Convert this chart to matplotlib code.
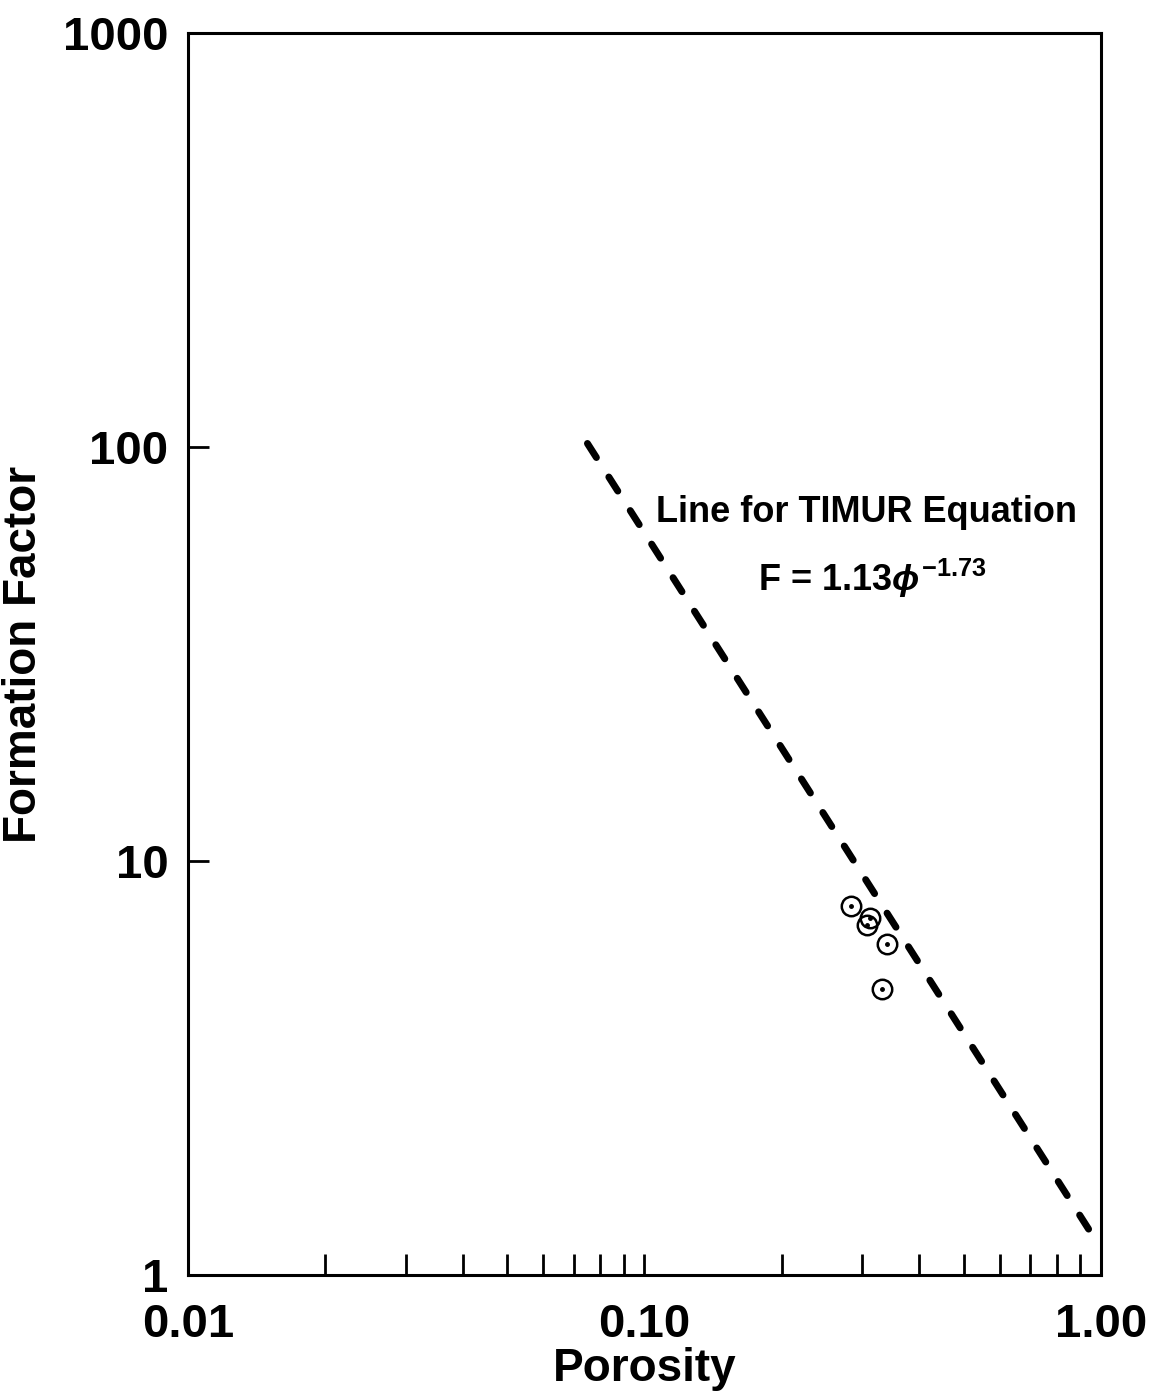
import matplotlib
matplotlib.use('Agg')
import matplotlib.pyplot as plt

# 数据：孔隙度与地层因子
porosity = [0.283, 0.312, 0.307, 0.340, 0.331]
formation_factor = [7.8, 7.3, 7.0, 6.3, 4.9]

# TIMUR 方程线的两个端点
line_phi = [0.075, 0.94]
line_F = [102, 1.29]

x_ticks = [0.01, 0.1, 1.0]
x_tick_labels = ['0.01', '0.10', '1.00']
y_ticks = [1, 10, 100, 1000]
y_tick_labels = ['1', '10', '100', '1000']

plt.rcParams['font.family'] = ['Liberation Sans', 'DejaVu Sans']
plt.rcParams['font.weight'] = 'bold'
plt.rcParams['mathtext.fontset'] = 'custom'
plt.rcParams['mathtext.rm'] = 'Liberation Sans:bold'
plt.rcParams['mathtext.it'] = 'Liberation Sans:bold:italic'
plt.rcParams['mathtext.bf'] = 'Liberation Sans:bold'

fig = plt.figure(figsize=(11.49, 13.99), dpi=100)
ax = fig.add_axes([0.1636, 0.0886, 0.7946, 0.8878])

# 虚线
ax.plot(line_phi, line_F, color='black', linewidth=5.0, linestyle=(0, (2.4, 3.33)),
        dash_capstyle='round')

# 散点：空心圆加中心点
ax.plot(porosity, formation_factor, linestyle='none', marker='o', markersize=14,
        markerfacecolor='none', markeredgecolor='black', markeredgewidth=1.8)
ax.plot(porosity, formation_factor, linestyle='none', marker='o', markersize=2.5,
        color='black')

ax.set_xscale('log')
ax.set_yscale('log')
ax.set_xlim(0.01, 1.0)
ax.set_ylim(1, 1000)

# 刻度
ax.set_xticks(x_ticks)
ax.set_xticklabels(x_tick_labels)
ax.set_yticks(y_ticks)
ax.set_yticklabels(y_tick_labels)
ax.xaxis.set_minor_locator(matplotlib.ticker.LogLocator(base=10, subs=range(2, 10)))
ax.xaxis.set_minor_formatter(matplotlib.ticker.NullFormatter())
ax.yaxis.set_minor_locator(matplotlib.ticker.NullLocator())
ax.tick_params(axis='both', which='both', direction='in', length=15, width=2.0,
               labelsize=34, top=False, right=False)
ax.tick_params(axis='x', which='major', pad=20)
ax.tick_params(axis='y', which='major', pad=14)
for lbl in ax.get_xticklabels() + ax.get_yticklabels():
    lbl.set_fontweight('bold')

for spine in ax.spines.values():
    spine.set_linewidth(2.2)

# 坐标轴标签
ax.set_xlabel('Porosity', fontsize=33, fontweight='bold', labelpad=0)
ax.set_ylabel('Formation Factor', fontsize=33, fontweight='bold', labelpad=12)

# 注释文字
ax.text(0.743, 0.614, 'Line for TIMUR Equation', transform=ax.transAxes,
        fontsize=26, fontweight='bold', ha='center', va='center')
ax.text(0.749, 0.561, r'F = 1.13$\it{\phi}^{-1.73}$', transform=ax.transAxes,
        fontsize=26, fontweight='bold', ha='center', va='center')

fig.savefig('out.png', dpi=100)
